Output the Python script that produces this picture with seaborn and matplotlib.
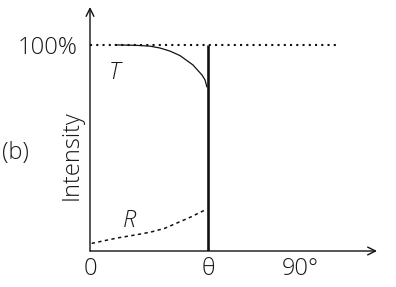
import numpy as np
import pandas as pd
import matplotlib
matplotlib.use("Agg")
import matplotlib.pyplot as plt
import seaborn as sns

# ---- data ----
theta = 50.6          # critical angle position (degrees)
full = 100            # 100% level
t_angle = [10.7, 20.0, 25.7, 30.0, 34.3, 38.6, 44.1, 48.0, 49.3, 50.1]
t_value = [100.0, 99.8, 99.4, 98.5, 97.0, 94.8, 90.3, 85.4, 83.0, 79.6]
r_angle = [0.7, 11.6, 20.0, 26.1, 32.0, 37.3, 43.0, 49.3]
r_value = [3.7, 6.3, 7.9, 9.2, 11.0, 13.6, 16.4, 19.9]
x_tick_pos = [0, theta, 90]
x_tick_lab = ["0", "θ", "90°"]
y_tick_pos = [full]
y_tick_lab = ["100%"]

sns.set_style("white")
plt.rcParams["font.family"] = ["Open Sans", "DejaVu Sans"]

fig = plt.figure(figsize=(3.96, 2.87), dpi=100)
ax = fig.add_axes([90 / 396, 36 / 287, 287 / 396, 244 / 287])
ax.set_xlim(0, 123)
ax.set_ylim(0, 118.4)

dfT = pd.DataFrame({"a": t_angle, "v": t_value})
dfR = pd.DataFrame({"a": r_angle, "v": r_value})

# 100% dotted reference
ax.plot([0, 105.9], [full, full], color="#111111", lw=1.5, ls=(0, (1, 2)), clip_on=False)
sns.lineplot(data=dfT, x="a", y="v", ax=ax, color="#111111", lw=0.9)
sns.lineplot(data=dfR, x="a", y="v", ax=ax, color="#111111", lw=1.1, ls=(0, (2.2, 2.2)))
ax.plot([theta, theta], [0, full], color="#111111", lw=1.9, solid_capstyle="butt")

for s in ax.spines.values():
    s.set_visible(False)
ax.annotate("", xy=(123, 0), xytext=(0, 0), xycoords="data",
            arrowprops=dict(arrowstyle="->", lw=1.0, color="#111111",
                            shrinkA=0, shrinkB=0, mutation_scale=14),
            annotation_clip=False)
ax.annotate("", xy=(0, 118.4), xytext=(0, 0), xycoords="data",
            arrowprops=dict(arrowstyle="->", lw=1.0, color="#111111",
                            shrinkA=0, shrinkB=0, mutation_scale=14),
            annotation_clip=False)

tc = "#1a1a1a"
fw = "light"
fs = 17
ax.set_xticks(x_tick_pos)
ax.set_xticklabels(x_tick_lab, fontsize=fs, fontweight=fw, color=tc)
ax.set_yticks(y_tick_pos)
ax.set_yticklabels(y_tick_lab, fontsize=fs, fontweight=fw, color=tc)
ax.tick_params(axis="x", length=0, pad=4)
ax.tick_params(axis="y", length=0, pad=9)
ax.set_xlabel("")
ax.set_ylabel("")

fig.text(72 / 396, 1 - 155 / 287, "Intensity", rotation=90, ha="center", va="center",
         fontsize=fs, fontweight=fw, color=tc)
fig.text(15 / 396, 1 - 153 / 287, "(b)", ha="center", va="center",
         fontsize=fs, fontweight=fw, color=tc)
fig.text(114 / 396, 1 - 73 / 287, "T", ha="center", va="center", style="italic",
         fontsize=17, fontweight=fw, color=tc)
fig.text(129 / 396, 1 - 221 / 287, "R", ha="center", va="center", style="italic",
         fontsize=17, fontweight=fw, color=tc)

fig.savefig("out.png", dpi=100)
